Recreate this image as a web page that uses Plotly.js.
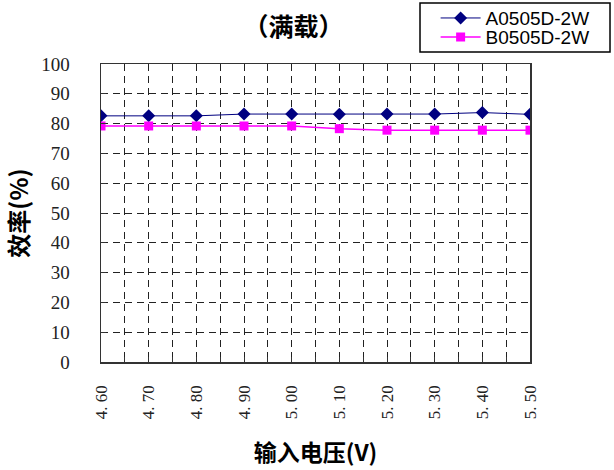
<!DOCTYPE html>
<html><head><meta charset="utf-8">
<script src="https://cdn.plot.ly/plotly-3.0.1.min.js"></script>
<style>html,body{margin:0;padding:0;background:#fff}#c{width:614px;height:470px}</style>
</head><body><div id="c"></div>
<script>
const voltages = [4.60, 4.70, 4.80, 4.90, 5.00, 5.10, 5.20, 5.30, 5.40, 5.50];
const tickLabels = ['4. 60','4. 70','4. 80','4. 90','5. 00','5. 10','5. 20','5. 30','5. 40','5. 50'];
const seriesA = [82.6, 82.6, 82.6, 83.2, 83.2, 83.1, 83.2, 83.2, 83.7, 83.1];
const seriesB = [79.2, 79.2, 79.2, 79.2, 79.2, 78.3, 77.8, 77.8, 77.8, 77.8];
const nameA = 'A0505D-2W', nameB = 'B0505D-2W';

const traces = [
  {x: voltages, y: seriesA, name: nameA, type:'scatter', mode:'lines+markers', legend:'legend',
   line:{color:'#000080', width:1}, marker:{symbol:'diamond', size:10, color:'#000080'}},
  {x: voltages, y: seriesB, name: nameB, type:'scatter', mode:'lines+markers', legend:'legend2',
   line:{color:'#FF00FF', width:1.5}, marker:{symbol:'square', size:9, color:'#FF00FF'}}
];
const legFont = {family:'Liberation Sans, Arial', size:19, color:'#000'};
const layout = {
  width:614, height:470,
  margin:{l:101, r:84, t:64, b:108, autoexpand:false},
  paper_bgcolor:'#fff', plot_bgcolor:'#fff',
  showlegend:true,
  title:{text:'（满载）', x:0.478, xanchor:'center', y:0.942, yanchor:'middle',
         font:{family:'Noto Sans CJK SC', size:25, color:'#000', weight:'bold'}},
  legend:{x:0.78, xanchor:'left', y:1.154, yanchor:'middle', borderwidth:0,
          bgcolor:'rgba(0,0,0,0)', font:legFont, itemwidth:40},
  legend2:{x:0.78, xanchor:'left', y:1.09, yanchor:'middle', borderwidth:0,
          bgcolor:'rgba(0,0,0,0)', font:legFont, itemwidth:40},
  shapes:[{type:'rect', xref:'paper', yref:'paper', x0:0.7436, x1:1.1865, y0:1.0403, y1:1.2047,
           line:{color:'#000', width:1.5}, fillcolor:'rgba(0,0,0,0)', layer:'below'}],
  xaxis:{range:[4.6,5.5], tickmode:'array', tickvals:voltages, ticktext:tickLabels, tickangle:-90,
         tickfont:{family:'Liberation Serif, Noto Sans CJK SC', size:17, color:'#222'},
         ticklabelstandoff:15,
         showline:true, linecolor:'#333', linewidth:1.5, mirror:true,
         ticks:'inside', ticklen:5, tickcolor:'#333',
         showgrid:true, gridcolor:'#222', gridwidth:1, griddash:'7px,5px',
         minor:{dtick:0.05, tick0:4.6, showgrid:true, gridcolor:'#222', gridwidth:1, griddash:'7px,5px', ticks:'inside', ticklen:5, tickcolor:'#333'},
         zeroline:false,
         title:{text:'输入电压(V)', standoff:26, font:{family:'Noto Sans CJK SC', size:23, color:'#000', weight:'bold'}}},
  yaxis:{range:[0,100], dtick:10, tick0:0,
         tickfont:{family:'Liberation Serif, Noto Sans CJK SC', size:19, color:'#222'},
         ticklabelstandoff:26,
         showline:true, linecolor:'#333', linewidth:1.5, mirror:true,
         ticks:'inside', ticklen:5, tickcolor:'#333',
         showgrid:true, gridcolor:'#222', gridwidth:1, griddash:'7px,5px',
         zeroline:false,
         title:{text:'效率(%)', standoff:12, font:{family:'Noto Sans CJK SC', size:24, color:'#000', weight:'bold'}}}
};
Plotly.newPlot('c', traces, layout, {displayModeBar:false, staticPlot:true});
</script></body></html>
